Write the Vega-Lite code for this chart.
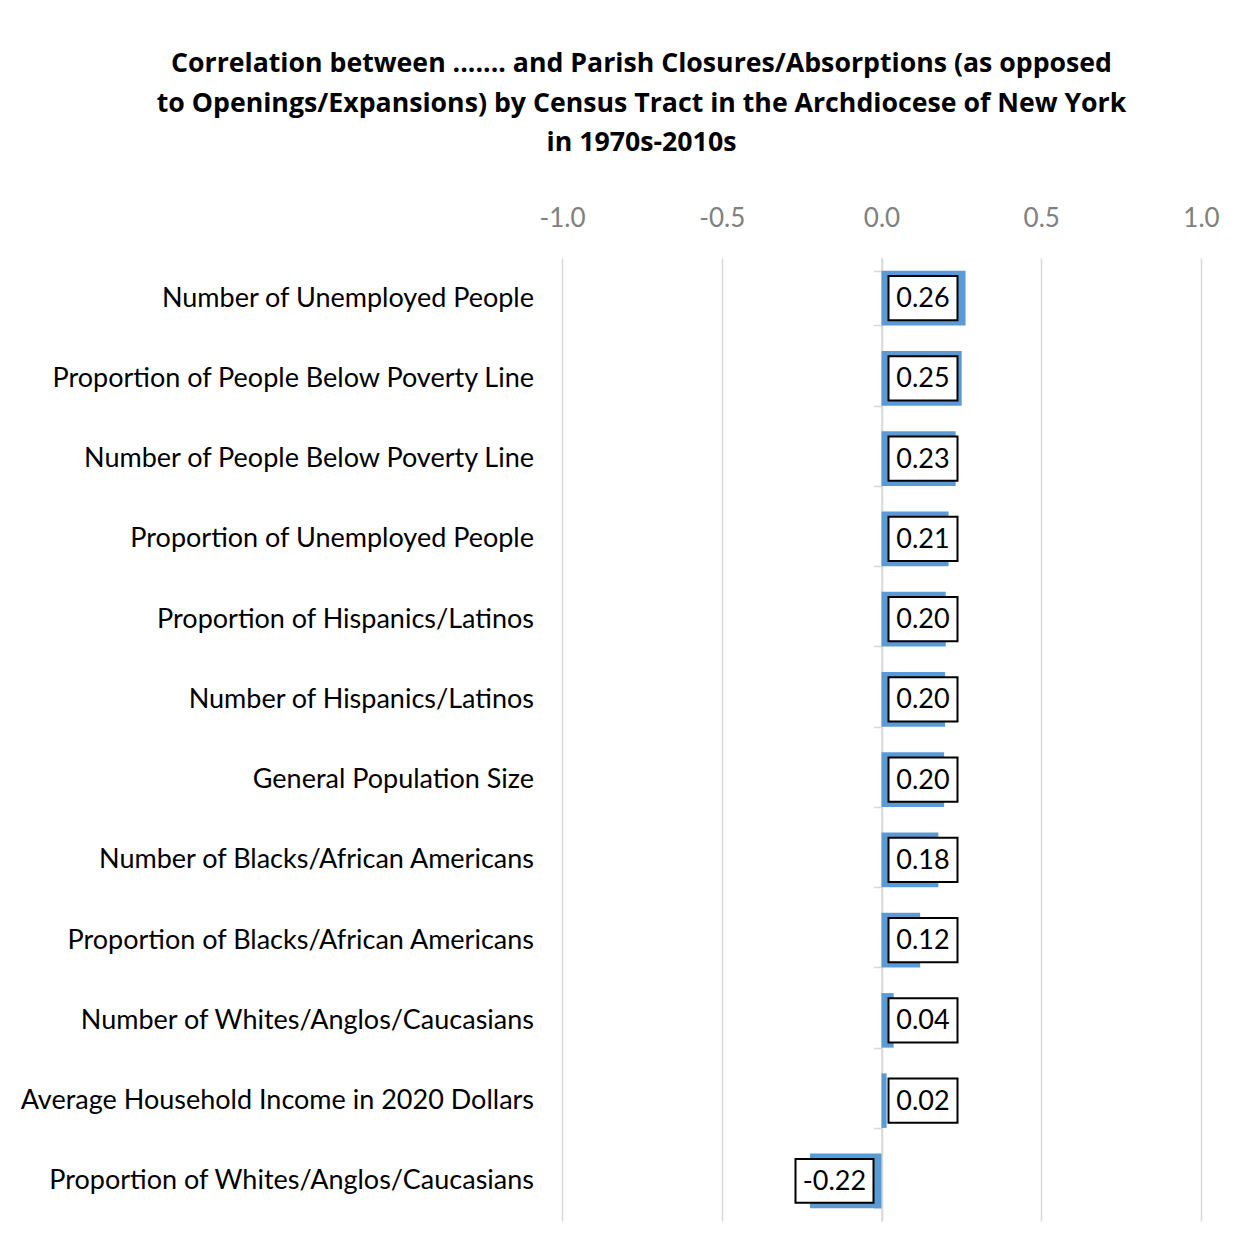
{
  "$schema": "https://vega.github.io/schema/vega-lite/v6.json",
  "autosize": {"type": "none"},
  "padding": {"left": 562, "top": 258, "right": 32, "bottom": 36},
  "width": 639,
  "height": 963,
  "background": "white",
  "config": {"view": {"stroke": null}, "font": "Lato"},
  "title": {
    "text": ["Correlation between ....... and Parish Closures/Absorptions (as opposed", "to Openings/Expansions) by Census Tract in the Archdiocese of New York", "in 1970s-2010s"],
    "anchor": "middle",
    "dx": -240,
    "font": "Open Sans",
    "fontSize": 26.7,
    "fontWeight": "bold",
    "color": "#000000",
    "lineHeight": 39.5,
    "offset": 48
  },
  "data": {
    "values": [
      {"variable": "Number of Unemployed People", "r": 0.263},
      {"variable": "Proportion of People Below Poverty Line", "r": 0.251},
      {"variable": "Number of People Below Poverty Line", "r": 0.232},
      {"variable": "Proportion of Unemployed People", "r": 0.21},
      {"variable": "Proportion of Hispanics/Latinos", "r": 0.201},
      {"variable": "Number of Hispanics/Latinos", "r": 0.199},
      {"variable": "General Population Size", "r": 0.196},
      {"variable": "Number of Blacks/African Americans", "r": 0.178},
      {"variable": "Proportion of Blacks/African Americans", "r": 0.121},
      {"variable": "Number of Whites/Anglos/Caucasians", "r": 0.038},
      {"variable": "Average Household Income in 2020 Dollars", "r": 0.016},
      {"variable": "Proportion of Whites/Anglos/Caucasians", "r": -0.224}
    ]
  },
  "encoding": {
    "y": {
      "field": "variable",
      "type": "nominal",
      "sort": null,
      "scale": {"paddingInner": 0.32, "paddingOuter": 0.16},
      "axis": {
        "title": null,
        "orient": "left",
        "offset": -319.5,
        "domainColor": "#D9D9D9",
        "domainWidth": 1.5,
        "tickColor": "#D9D9D9",
        "tickWidth": 1.5,
        "tickSize": 8,
        "tickBand": "extent",
        "labelPadding": 340,
        "labelFont": "Lato",
        "labelFontSize": 27,
        "labelColor": "#000000",
        "labelLimit": 0
      }
    }
  },
  "layer": [
    {
      "mark": {"type": "bar", "color": "#5B9BD5"},
      "encoding": {
        "x": {
          "field": "r",
          "type": "quantitative",
          "scale": {"domain": [-1, 1], "nice": false},
          "axis": {
            "orient": "top",
            "title": null,
            "values": [-1, -0.5, 0, 0.5, 1],
            "labelExpr": "replace(format(datum.value, '.1f'), '\u2212', '-')",
            "labelFlush": false,
            "domain": false,
            "ticks": false,
            "tickSize": 0,
            "labelPadding": 27,
            "labelFont": "Lato",
            "labelFontSize": 26,
            "labelColor": "#808080",
            "gridColor": "#D9D9D9",
            "gridWidth": 1.5
          }
        }
      }
    },
    {
      "transform": [{"filter": "datum.r >= 0"}],
      "mark": {"type": "point", "shape": "M-1,-0.638H1V0.638H-1Z", "size": 4761, "filled": true, "fill": "white", "stroke": "black", "strokeWidth": 2, "opacity": 1, "xOffset": 41.5},
      "encoding": {"x": {"datum": 0, "type": "quantitative"}}
    },
    {
      "transform": [{"filter": "datum.r < 0"}],
      "mark": {"type": "point", "shape": "M-1,-0.564H1V0.564H-1Z", "size": 6084, "filled": true, "fill": "white", "stroke": "black", "strokeWidth": 2, "opacity": 1, "xOffset": -47},
      "encoding": {"x": {"datum": 0, "type": "quantitative"}}
    },
    {
      "transform": [{"filter": "datum.r >= 0"}],
      "mark": {"type": "text", "font": "Lato", "fontSize": 27, "color": "black", "align": "center", "baseline": "middle", "dx": 41.5, "dy": 1, "text": {"expr": "replace(format(datum.r, '.2f'), '\u2212', '-')"}},
      "encoding": {"x": {"datum": 0, "type": "quantitative"}}
    },
    {
      "transform": [{"filter": "datum.r < 0"}],
      "mark": {"type": "text", "font": "Lato", "fontSize": 27, "color": "black", "align": "center", "baseline": "middle", "dx": -47, "dy": 1, "text": {"expr": "replace(format(datum.r, '.2f'), '\u2212', '-')"}},
      "encoding": {"x": {"datum": 0, "type": "quantitative"}}
    }
  ]
}
